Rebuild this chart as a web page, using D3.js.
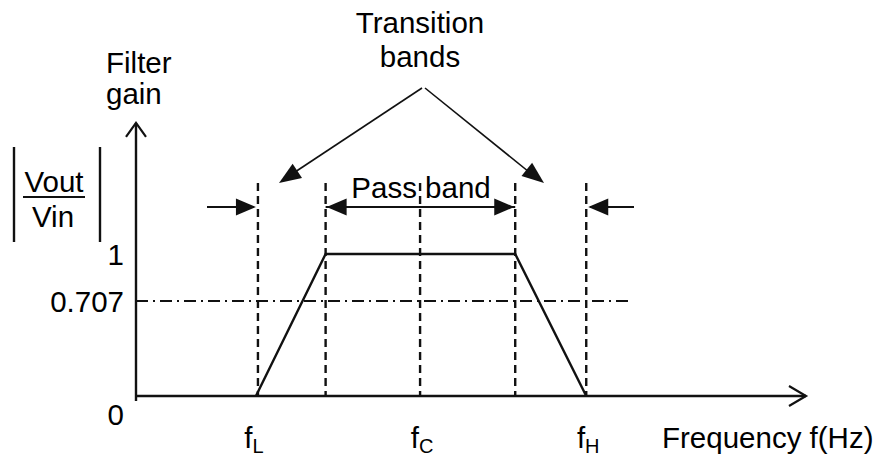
<!DOCTYPE html>
<html>
<head>
<meta charset="utf-8">
<script src="https://cdn.jsdelivr.net/npm/d3@7/dist/d3.min.js"></script>
<style>
  html, body { margin: 0; padding: 0; background: #fff; }
  svg { display: block; }
  text { font-family: "Liberation Sans", Arial, sans-serif; fill: #000; }
</style>
</head>
<body>
<script>
// ---- data ----
const gainTicks = [0, 0.707, 1];
const gainTickLabels = ["0", "0.707", "1"];
const freqTickValues = [18.2, 42.4, 67.2];
const freqTickNames = ["f", "f", "f"];
const freqTickSubs = ["L", "C", "H"];
const bandEdges = [18.2, 28.3, 42.4, 56.6, 67.2];     // fL, pass start, fC, pass end, fH
const responseFreq = [17.9, 28.3, 56.6, 67.2];
const responseGain = [0, 1, 1, 0];
const halfPowerGain = 0.707;
const halfPowerEnd = 74.0;

// ---- layout ----
const W = 882, H = 463;
const svg = d3.select("body").append("svg").attr("width", W).attr("height", H);

const x = d3.scaleLinear().domain([0, 100]).range([136, 806]);
const y = d3.scaleLinear().domain([0, 0.707, 1]).range([396, 301, 254]);

const ink = "#111";
const FS = 29.5;

function arrowHead(g, tipX, tipY, fromX, fromY, len, half) {
  const dx = tipX - fromX, dy = tipY - fromY;
  const d = Math.hypot(dx, dy), ux = dx / d, uy = dy / d;
  const bx = tipX - ux * len, by = tipY - uy * len;
  const px = -uy * half, py = ux * half;
  g.append("path")
    .attr("d", `M${tipX},${tipY}L${bx + px},${by + py}L${bx - px},${by - py}Z`)
    .attr("fill", ink);
}

// half-power dash-dot line
svg.append("line")
  .attr("x1", x(0)).attr("x2", x(halfPowerEnd))
  .attr("y1", y(halfPowerGain)).attr("y2", y(halfPowerGain))
  .attr("stroke", ink).attr("stroke-width", 2)
  .attr("stroke-dasharray", "12,5,2,5");

// vertical dashed band edges
const dashTop = 1.443;
svg.selectAll("line.edge").data(bandEdges).join("line")
  .attr("class", "edge")
  .attr("x1", d => x(d)).attr("x2", d => x(d))
  .attr("y1", y(dashTop)).attr("y2", y(0))
  .attr("stroke", ink).attr("stroke-width", 2.4)
  .attr("stroke-dasharray", "8,5");

// response trapezoid
const line = d3.line().x(d => x(d[0])).y(d => y(d[1]));
svg.append("path")
  .datum(d3.zip(responseFreq, responseGain))
  .attr("d", line)
  .attr("fill", "none").attr("stroke", ink).attr("stroke-width", 2.4);

// axes lines
const yTop = 1.817;
svg.append("line")
  .attr("x1", x(0)).attr("x2", x(0))
  .attr("y1", y(yTop)).attr("y2", y(0) + 5)
  .attr("stroke", ink).attr("stroke-width", 2.4);
svg.append("line")
  .attr("x1", x(0)).attr("x2", x(100))
  .attr("y1", y(0)).attr("y2", y(0))
  .attr("stroke", ink).attr("stroke-width", 2.4);
// open chevron arrowheads
svg.append("path")
  .attr("d", `M${x(0) - 10},${y(yTop) + 14}L${x(0)},${y(yTop)}L${x(0) + 10},${y(yTop) + 14}`)
  .attr("fill", "none").attr("stroke", ink).attr("stroke-width", 2.2);
svg.append("path")
  .attr("d", `M${x(100) - 17},${y(0) - 10}L${x(100)},${y(0)}L${x(100) - 17},${y(0) + 10}`)
  .attr("fill", "none").attr("stroke", ink).attr("stroke-width", 2.2);

// y tick labels via d3 axis
const yAxis = d3.axisLeft(y).tickValues(gainTicks).tickSize(0).tickPadding(12)
  .tickFormat((d, i) => gainTickLabels[i]);
const gy = svg.append("g").attr("transform", `translate(${x(0)},0)`).call(yAxis);
gy.select(".domain").remove();
gy.selectAll("text")
  .style("font-family", '"Liberation Sans", Arial, sans-serif')
  .style("font-size", FS + "px")
  .attr("fill", ink)
  .attr("dy", (d) => d === 0 ? "0.95em" : "0.36em");

// x tick labels with subscripts
const nudges = [-4, 2, 2];
const xl = svg.selectAll("text.xt").data(freqTickValues).join("text")
  .attr("class", "xt")
  .attr("x", (d, i) => x(d) + nudges[i])
  .attr("y", 448)
  .attr("text-anchor", "middle")
  .style("font-size", FS + "px");
xl.append("tspan").text((d, i) => freqTickNames[i]);
xl.append("tspan").attr("dy", 5).style("font-size", "20px").text((d, i) => freqTickSubs[i]);

// axis titles
svg.append("text").attr("x", 662).attr("y", 448).style("font-size", FS + "px").text("Frequency f(Hz)");
svg.append("text").attr("x", 106).attr("y", 73).style("font-size", FS + "px").text("Filter");
svg.append("text").attr("x", 106).attr("y", 104).style("font-size", FS + "px").text("gain");

// |Vout/Vin|
svg.append("text").attr("x", 54).attr("y", 192).attr("text-anchor", "middle").style("font-size", FS + "px").text("Vout");
svg.append("text").attr("x", 53).attr("y", 227).attr("text-anchor", "middle").style("font-size", FS + "px").text("Vin");
svg.append("line").attr("x1", 23).attr("x2", 85).attr("y1", 197).attr("y2", 197).attr("stroke", ink).attr("stroke-width", 1.8);
[14, 100].forEach(bx => svg.append("line").attr("x1", bx).attr("x2", bx).attr("y1", 147).attr("y2", 242)
  .attr("stroke", ink).attr("stroke-width", 2.4));

// pass band double arrow
const arrowG = 1.293;
const ay = y(arrowG);
const ann = svg.append("g");
ann.append("line").attr("x1", x(bandEdges[1])).attr("x2", x(bandEdges[3])).attr("y1", ay).attr("y2", ay)
  .attr("stroke", ink).attr("stroke-width", 2);
arrowHead(ann, x(bandEdges[1]) + 1, ay, x(bandEdges[3]), ay, 20, 8.5);
arrowHead(ann, x(bandEdges[3]) - 1, ay, x(bandEdges[1]), ay, 20, 8.5);
svg.append("text").attr("x", 421).attr("y", 198).attr("text-anchor", "middle").style("font-size", FS + "px").text("Pass band");

// outer transition arrows
ann.append("line").attr("x1", 207).attr("x2", x(bandEdges[0]) - 4).attr("y1", ay).attr("y2", ay)
  .attr("stroke", ink).attr("stroke-width", 2);
arrowHead(ann, x(bandEdges[0]) - 2, ay, 207, ay, 20, 8.5);
ann.append("line").attr("x1", 634).attr("x2", x(bandEdges[4]) + 4).attr("y1", ay).attr("y2", ay)
  .attr("stroke", ink).attr("stroke-width", 2);
arrowHead(ann, x(bandEdges[4]) + 2, ay, 634, ay, 20, 8.5);

// Transition bands label with pointers
svg.append("text").attr("x", 420).attr("y", 33).attr("text-anchor", "middle").style("font-size", FS + "px").text("Transition");
svg.append("text").attr("x", 420).attr("y", 67).attr("text-anchor", "middle").style("font-size", FS + "px").text("bands");
const apexL = [422, 88], apexR = [425, 88];
const tipL = [279, 183], tipR = [544, 183];
ann.append("line").attr("x1", apexL[0]).attr("y1", apexL[1]).attr("x2", tipL[0] + 10).attr("y2", tipL[1] - 7)
  .attr("stroke", ink).attr("stroke-width", 1.6);
arrowHead(ann, tipL[0], tipL[1], apexL[0], apexL[1], 22, 8.5);
ann.append("line").attr("x1", apexR[0]).attr("y1", apexR[1]).attr("x2", tipR[0] - 10).attr("y2", tipR[1] - 7)
  .attr("stroke", ink).attr("stroke-width", 1.6);
arrowHead(ann, tipR[0], tipR[1], apexR[0], apexR[1], 22, 8.5);
</script>
</body>
</html>
